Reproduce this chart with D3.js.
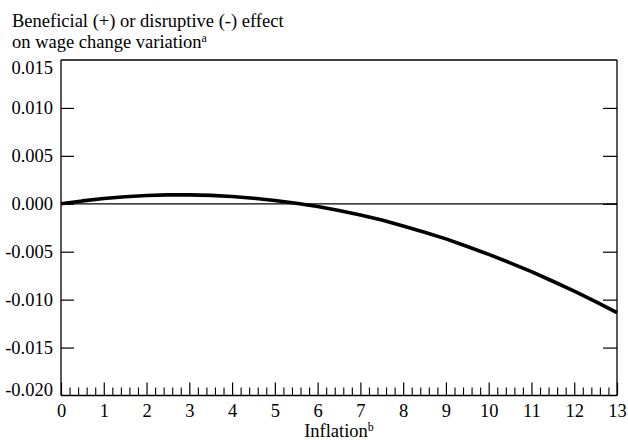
<!DOCTYPE html>
<html><head><meta charset="utf-8">
<script src="https://cdn.jsdelivr.net/npm/d3@7"></script>
<style>
body{margin:0;background:#fff;}
</style></head>
<body><svg id="c" width="628" height="440"></svg>
<script>
const inflation = [0,0.5,1,1.5,2,2.5,3,3.5,4,4.5,5,5.5,6,6.5,7,7.5,8,8.5,9,9.5,10,10.5,11,11.5,12,12.5,13];
const effect = [0.0000,0.00030,0.00055,0.00074,0.00087,0.00093,0.00093,0.00088,0.00076,0.00058,0.00035,0.00006,-0.00029,-0.00070,-0.00118,-0.00170,-0.00232,-0.00296,-0.00366,-0.00445,-0.00528,-0.00616,-0.00708,-0.00808,-0.00912,-0.01020,-0.01135];
const yTicks = [-0.020,-0.015,-0.010,-0.005,0.000,0.005,0.010,0.015];
const xTicks = [0,1,2,3,4,5,6,7,8,9,10,11,12,13];
const titleLines = ["Beneficial (+) or disruptive (-) effect","on wage change variation"];
const xTitle = "Inflation";

const FONT = "'Liberation Serif'";
const svg = d3.select("#c");
const L=61,R=617,T=60,B=395.5;
const x = d3.scaleLinear().domain([0,13]).range([L,R]);
const y = d3.scaleLinear().domain([-0.020,0.015]).range([B,T]);
const fs = 18.5;

// zero line
svg.append("line").attr("x1",L).attr("x2",R).attr("y1",y(0)).attr("y2",y(0)).attr("stroke","#000").attr("stroke-width",1.2);

// frame top
svg.append("line").attr("x1",L).attr("x2",R).attr("y1",T).attr("y2",T).attr("stroke","#000").attr("stroke-width",1.3);

// right axis
const ra = svg.append("g").attr("transform",`translate(${R},0)`)
  .call(d3.axisRight(y).tickValues(yTicks.filter(v=>v!==0.015&&v!==-0.020)).tickSizeInner(-14).tickSizeOuter(0).tickFormat(""));
ra.select(".domain").attr("d",`M0,${T}V${B}`).attr("stroke-width",1.3);
ra.selectAll(".tick line").attr("stroke-width",1.2);

// left axis
const yfmt = d=>d3.format(".3f")(d).replace("\u2212","-");
const la = svg.append("g").attr("transform",`translate(${L},0)`)
  .call(d3.axisLeft(y).tickValues(yTicks).tickSizeInner(-13).tickSizeOuter(0).tickPadding(8).tickFormat(yfmt))
  .attr("font-family",null);
la.select(".domain").attr("d",`M0,${T}V${B}`).attr("stroke-width",1.3);
la.selectAll(".tick line").attr("stroke-width",1.2).filter(d=>d===0.015||d===-0.020).remove();
la.selectAll(".tick text").style("font-family",FONT).style("font-size",fs+"px")
  .attr("dy",d=> d===0.015? "0.72em" : d===-0.020 ? "0.02em" : "0.32em");

// bottom minor ticks
const minor = d3.range(0,65).map(i=>i/5).filter(v=>Math.abs(v-Math.round(v))>1e-6);
svg.append("g").attr("transform",`translate(0,${B})`)
  .call(d3.axisBottom(x).tickValues(minor).tickSizeInner(-8).tickSizeOuter(0).tickFormat(""))
  .call(g=>g.select(".domain").remove())
  .selectAll(".tick line").attr("stroke-width",1.1);
const ba = svg.append("g").attr("transform",`translate(0,${B})`)
  .call(d3.axisBottom(x).tickValues(xTicks).tickSizeInner(-13).tickSizeOuter(0).tickPadding(8).tickFormat(d3.format("d")))
  .attr("font-family",null);
ba.select(".domain").attr("d",`M${L},0H${R}`).attr("stroke-width",1.3);
ba.selectAll(".tick line").attr("stroke-width",1.2);
ba.selectAll(".tick text").style("font-family",FONT).style("font-size",fs+"px");

// curve
svg.append("path").datum(inflation.map((v,i)=>[v,effect[i]]))
  .attr("d",d3.line().x(d=>x(d[0])).y(d=>y(d[1])))
  .attr("fill","none").attr("stroke","#000").attr("stroke-width",3.6).attr("stroke-linejoin","round");

// titles
const t = svg.append("text").attr("x",12).attr("y",27).style("font-family",FONT).style("font-size",fs+"px");
t.text(titleLines[0]);
const t2 = svg.append("text").attr("x",12).attr("y",48).style("font-family",FONT).style("font-size",fs+"px");
t2.append("tspan").text(titleLines[1]);
t2.append("tspan").style("font-size","12px").attr("dy",-6).text("a");

const xt = svg.append("text").attr("x",(L+R)/2).attr("y",437).attr("text-anchor","middle").style("font-family",FONT).style("font-size",fs+"px");
xt.append("tspan").text(xTitle);
xt.append("tspan").style("font-size","12px").attr("dy",-6).text("b");
</script></body></html>
